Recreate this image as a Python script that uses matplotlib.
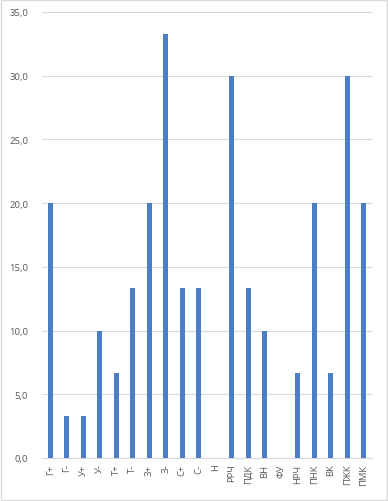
import matplotlib
matplotlib.use("Agg")
import matplotlib.pyplot as plt
from matplotlib.patches import Rectangle

categories = ["Г+", "Г-", "У+", "У-", "Т+", "Т-", "З+", "З-", "С+", "С-", "Н",
              "РРЧ", "ПДК", "ВН", "ФУ", "НРЧ", "ПНК", "ВК", "ПЖК", "ПМК"]
values = [20.0, 3.3, 3.3, 10.0, 6.7, 13.3, 20.0, 33.3, 13.3, 13.3, 0.0,
          30.0, 13.3, 10.0, 0.0, 6.7, 20.0, 6.7, 30.0, 20.0]
yticks = [0, 5, 10, 15, 20, 25, 30, 35]

plt.rcParams['font.family'] = ['Open Sans', 'DejaVu Sans']
fig = plt.figure(figsize=(3.88, 5.02), dpi=100)
fig.patches.append(Rectangle((0.002, 0.002), 0.996, 0.996, transform=fig.transFigure,
                             fill=False, edgecolor='#d9d9d9', linewidth=1))
ax = fig.add_axes([0.108, 0.0857, 0.851, 0.8885])
x = list(range(len(categories)))
ax.bar(x, values, width=0.32, color='#4C7EC6', zorder=3)
ax.set_xlim(-0.5, len(categories) - 0.5)
ax.set_ylim(0, 35)
ax.set_yticks(yticks)
ax.set_yticklabels([f"{v:.1f}".replace('.', ',') for v in yticks])
ax.set_xticks(x)
ax.set_xticklabels(categories, rotation=90)
ax.tick_params(axis='both', length=0, colors='#595959', labelsize=6.8)
ax.tick_params(axis='y', pad=10)
ax.tick_params(axis='x', pad=4)
ax.grid(axis='y', color='#d9d9d9', linewidth=0.8, zorder=0)
for s in ['top', 'right', 'left']:
    ax.spines[s].set_visible(False)
ax.spines['bottom'].set_color('#d9d9d9')
fig.savefig('out.png', dpi=100)
